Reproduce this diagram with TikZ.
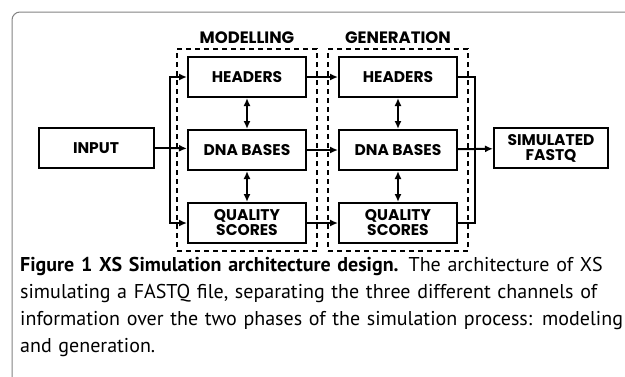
\documentclass[tikz,border=0pt]{standalone}
\usepackage{fontspec}
\setmainfont{PT Sans}
\newfontfamily\boxfont{Poppins}
\usepackage{tikz}
\usetikzlibrary{positioning,arrows.meta,fit,calc}
\definecolor{framegray}{RGB}{130,130,130}
\tikzset{
  block/.style={rectangle,draw=black,line width=2pt,align=center,minimum width=118pt,minimum height=40pt,inner sep=1pt,font=\boxfont\bfseries\fontsize{15.5}{15}\selectfont},
  phase/.style={rectangle,draw=black,line width=2pt,dash pattern=on 5pt off 4pt},
  phasetitle/.style={font=\boxfont\bfseries\fontsize{16.5}{16}\selectfont},
  edge/.style={-{Latex[length=8pt,width=7pt]},line width=2pt},
  both/.style={{Latex[length=8pt,width=7pt]}-{Latex[length=8pt,width=7pt]},line width=2pt},
  wire/.style={line width=2pt}
}
\begin{document}
\begin{tikzpicture}[x=1pt,y=-1pt,node distance=31pt]
  \useasboundingbox (0,0) rectangle (625,376);
  \draw[framegray,line width=1pt,rounded corners=8pt] (12,12) rectangle (660,400);
  % modelling column
  \node[block] (mhead) at (247,77) {HEADERS};
  \node[block,below=of mhead] (mdna) {DNA BASES};
  \node[block,below=of mdna] (mqual) {QUALITY\\SCORES};
  % generation column
  \node[block] (ghead) at (398,77) {HEADERS};
  \node[block,below=of ghead] (gdna) {DNA BASES};
  \node[block,below=of gdna] (gqual) {QUALITY\\SCORES};
  % in and out
  \node[block,minimum width=115pt] (input) at (96,148) {INPUT};
  \node[block,minimum width=114pt] (output) at (551,148) {SIMULATED\\FASTQ};
  % phases
  \node[phase,fit=(mhead)(mqual),inner xsep=10pt,inner ysep=7pt] (model) {};
  \node[phase,fit=(ghead)(gqual),inner xsep=10pt,inner ysep=7pt] (gen) {};
  \node[phasetitle,above=1pt of model] (modeltitle) {MODELLING};
  \node[phasetitle,above=1pt of gen] (gentitle) {GENERATION};
  % connectors
  \coordinate (split) at (170,148);
  \coordinate (merge) at (475,148);
  \draw[wire] (input) -- (split);
  \draw[edge] (split) |- (mhead);
  \draw[edge] (split) -- (mdna);
  \draw[edge] (split) |- (mqual);
  \draw[both] (mhead) -- (mdna);
  \draw[both] (mdna) -- (mqual);
  \draw[both] (ghead) -- (gdna);
  \draw[both] (gdna) -- (gqual);
  \draw[edge] (mhead) -- (ghead);
  \draw[edge] (mdna) -- (gdna);
  \draw[edge] (mqual) -- (gqual);
  \draw[wire] (ghead) -| (merge);
  \draw[wire] (gqual) -| (merge);
  \draw[edge] (gdna) -- (output);
  % caption
  \node[anchor=north west,text width=605pt,align=left,inner sep=0pt,font=\fontsize{20}{27}\selectfont] (caption) at (20,257)
    {\hyphenpenalty=10000 \exhyphenpenalty=10000 \textbf{Figure 1 XS Simulation architecture design.} The architecture of XS simulating a FASTQ file, separating the three different channels of information over the two phases of the simulation process: modeling and generation.};
\end{tikzpicture}
\end{document}
